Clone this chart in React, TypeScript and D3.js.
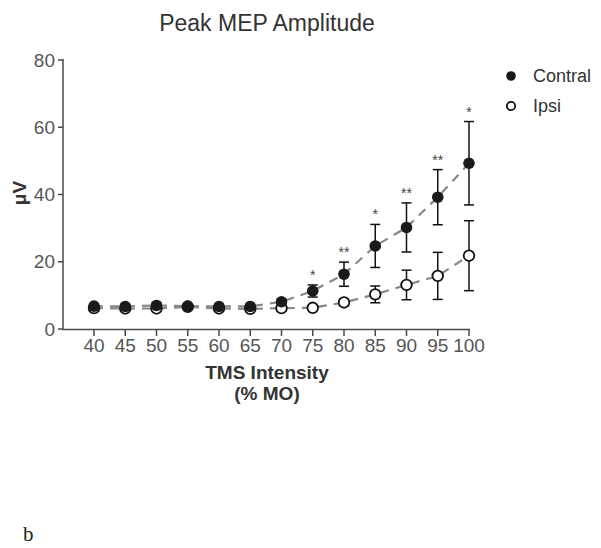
import React from "react";
import * as d3 from "d3";

const intensities = [40, 45, 50, 55, 60, 65, 70, 75, 80, 85, 90, 95, 100];
const contralMean = [6.8, 6.7, 7.0, 6.8, 6.7, 6.7, 8.1, 11.3, 16.3, 24.7, 30.2, 39.2, 49.3];
const contralErr = [0.6, 0.6, 0.8, 0.5, 0.6, 0.6, 0.8, 1.8, 3.6, 6.4, 7.3, 8.2, 12.4];
const ipsiMean = [6.2, 6.1, 6.1, 6.6, 6.1, 6.0, 6.2, 6.3, 7.9, 10.3, 13.1, 15.8, 21.8];
const ipsiErr = [0.5, 0.5, 0.5, 0.5, 0.5, 0.6, 0.6, 0.7, 1.0, 2.5, 4.4, 7.0, 10.4];
const stars = ["", "", "", "", "", "", "", "*", "**", "*", "**", "**", "*"];
const yTicks = [0, 20, 40, 60, 80];

export default function App() {
  const x = d3.scaleLinear().domain([40, 100]).range([94, 469]);
  const y = d3.scaleLinear().domain([0, 80]).range([329, 60]);
  const line = d3
    .line<number>()
    .x((_, i) => x(intensities[i]))
    .y((d) => y(d));
  const font = "Arial, 'Liberation Sans', sans-serif";
  const grey = "#4a4a4a";

  const errorBars = (mean: number[], err: number[], key: string) =>
    mean.map((m, i) => {
      const cx = x(intensities[i]);
      const top = y(m + err[i]);
      const bot = y(m - err[i]);
      return (
        <g key={key + i} stroke="#111" strokeWidth={1.5}>
          <line x1={cx} x2={cx} y1={top} y2={bot} />
          <line x1={cx - 5} x2={cx + 5} y1={top} y2={top} />
          <line x1={cx - 5} x2={cx + 5} y1={bot} y2={bot} />
        </g>
      );
    });

  return (
    <svg width={585} height={540} style={{ display: "block" }}>
      <g transform="translate(-8,-8)">
        <text x={267} y={31} textAnchor="middle" fontFamily={font} fontSize={23} fill="#333">
          Peak MEP Amplitude
        </text>
        {/* y axis */}
        <line x1={63} x2={63} y1={59} y2={330} stroke={grey} strokeWidth={1.5} />
        {yTicks.map((t) => (
          <g key={"yt" + t}>
            <line x1={58} x2={63} y1={y(t)} y2={y(t)} stroke={grey} strokeWidth={1.5} />
            <text x={55} y={y(t)} dy="0.35em" textAnchor="end" fontFamily={font} fontSize={19} fill="#555">
              {t}
            </text>
          </g>
        ))}
        <text
          transform={`translate(26,193) rotate(-90)`}
          textAnchor="middle"
          fontFamily={font}
          fontSize={19}
          fontWeight="bold"
          fill="#333"
        >
          μV
        </text>
        {/* x axis */}
        <line x1={62.25} x2={470} y1={329.5} y2={329.5} stroke={grey} strokeWidth={1.5} />
        {intensities.map((t) => (
          <g key={"xt" + t}>
            <line x1={x(t)} x2={x(t)} y1={329.5} y2={336} stroke={grey} strokeWidth={1.5} />
            <text x={x(t)} y={352} textAnchor="middle" fontFamily={font} fontSize={19} fill="#555">
              {t}
            </text>
          </g>
        ))}
        <text x={267} y={379} textAnchor="middle" fontFamily={font} fontSize={19} fontWeight="bold" fill="#333">
          TMS Intensity
        </text>
        <text x={267} y={400} textAnchor="middle" fontFamily={font} fontSize={19} fontWeight="bold" fill="#333">
          (% MO)
        </text>
        {/* lines */}
        <path d={line(ipsiMean) || ""} fill="none" stroke="#888" strokeWidth={2.2} strokeDasharray="9,7" />
        <path d={line(contralMean) || ""} fill="none" stroke="#888" strokeWidth={2.2} strokeDasharray="9,7" />
        {errorBars(ipsiMean, ipsiErr, "ie")}
        {errorBars(contralMean, contralErr, "ce")}
        {ipsiMean.map((m, i) => (
          <circle key={"ip" + i} cx={x(intensities[i])} cy={y(m)} r={5.3} fill="#fff" stroke="#111" strokeWidth={1.8} />
        ))}
        {contralMean.map((m, i) => (
          <circle key={"cp" + i} cx={x(intensities[i])} cy={y(m)} r={5.8} fill="#1a1a1a" />
        ))}
        {stars.map((s, i) =>
          s ? (
            <text
              key={"s" + i}
              x={x(intensities[i])}
              y={y(contralMean[i] + contralErr[i]) - 5}
              textAnchor="middle"
              fontFamily={font}
              fontSize={14}
              fill="#444"
            >
              {s}
            </text>
          ) : null
        )}
        {/* legend */}
        <circle cx={511} cy={76} r={4.8} fill="#1a1a1a" />
        <text x={533} y={76} dy="0.35em" fontFamily={font} fontSize={18} fill="#333">
          Contral
        </text>
        <circle cx={511} cy={106} r={4.2} fill="#fff" stroke="#111" strokeWidth={1.8} />
        <text x={533} y={106} dy="0.35em" fontFamily={font} fontSize={18} fill="#333">
          Ipsi
        </text>
        <text x={23} y={541} fontFamily="'Liberation Serif', 'Times New Roman', serif" fontSize={21} fill="#222">
          b
        </text>
      </g>
    </svg>
  );
}
